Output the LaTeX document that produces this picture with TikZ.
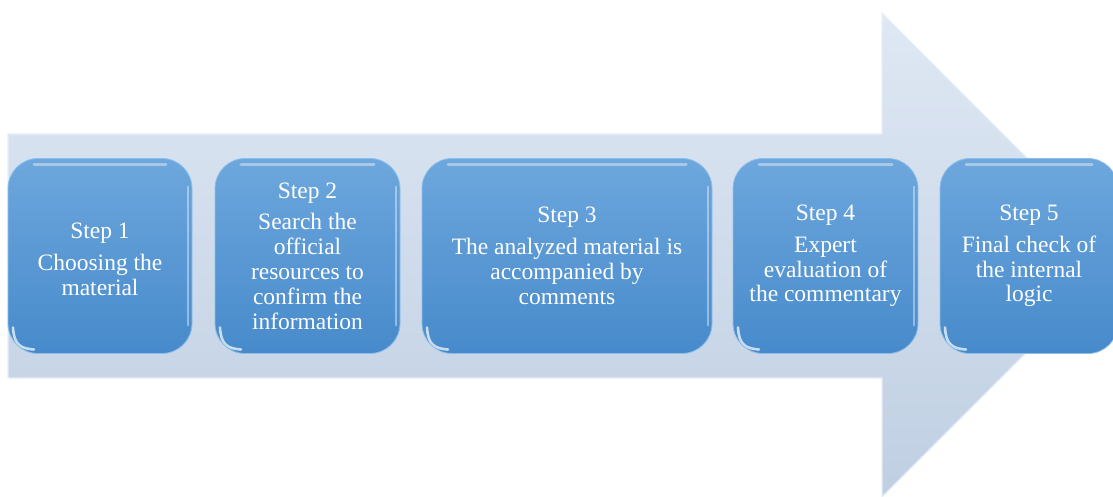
\documentclass[tikz,border=0pt]{standalone}
\usepackage{fontspec}
\setmainfont{Liberation Serif}
\newfontfamily\stepfont{Liberation Serif}
\begin{document}
\begin{tikzpicture}[x=1pt,y=-1pt,
  stepbox/.style={rounded corners=30pt, minimum height=195pt, inner sep=0pt,
    top color=boxtop, bottom color=boxbot, draw=boxedge, line width=0.8pt,
    text=white, align=center, font=\stepfont\fontsize{23.5pt}{24.8pt}\selectfont,
    path picture={
      \draw[white,opacity=.4,line width=3pt,line cap=round]
        ([shift={(26pt,-6pt)}]path picture bounding box.north west) --
        ([shift={(-26pt,-6pt)}]path picture bounding box.north east);
      \draw[white,opacity=.4,line width=1.6pt,line cap=round]
        ([shift={(-4pt,-28pt)}]path picture bounding box.north east) --
        ([shift={(-4pt,28pt)}]path picture bounding box.south east);
      \draw[white,opacity=.7,line width=2.6pt,line cap=round]
        ([shift={(5pt,26pt)}]path picture bounding box.south west) .. controls
        ([shift={(6pt,9pt)}]path picture bounding box.south west) and
        ([shift={(12pt,5pt)}]path picture bounding box.south west) ..
        ([shift={(26pt,4pt)}]path picture bounding box.south west);
    }}]
\definecolor{boxtop}{HTML}{6DA7DD}
\definecolor{boxbot}{HTML}{478ACB}
\definecolor{boxedge}{HTML}{8CC0EA}
\definecolor{arrtop}{HTML}{DFE8F4}
\definecolor{arrbot}{HTML}{BFCFE2}
\definecolor{arredge}{HTML}{E8EFF8}
\useasboundingbox (0,0) rectangle (1113,497);
\clip (0,0) rectangle (1113,497);
\fill[white] (0,0) rectangle (1113,497);
% big arrow
\path[top color=arrtop, bottom color=arrbot, draw=arredge, line width=1.2pt]
  (8,134) -- (882,134) -- (882,13) -- (1124,255) -- (882,497) -- (882,378) -- (8,378) -- cycle;
% steps
\node[stepbox, minimum width=184pt] (s1) at (100,256)
  {\raisebox{-6pt}[\height][\depth]{\begin{tabular}{@{}c@{}}Step 1\\[7pt]Choosing the\\material\end{tabular}}};
\node[stepbox, minimum width=185pt] (s2) at (307.5,256)
  {Step 2\\[7pt]Search the\\official\\resources to\\confirm the\\information};
\node[stepbox, minimum width=290pt] (s3) at (567,256)
  {Step 3\\[7pt]The analyzed material is\\accompanied by\\comments};
\node[stepbox, minimum width=185pt] (s4) at (825.5,256)
  {Step 4\\[7pt]Expert\\evaluation of\\the commentary};
\node[stepbox, minimum width=178pt] (s5) at (1029,256)
  {Step 5\\[7pt]Final check of\\the internal\\logic};
\end{tikzpicture}
\end{document}
